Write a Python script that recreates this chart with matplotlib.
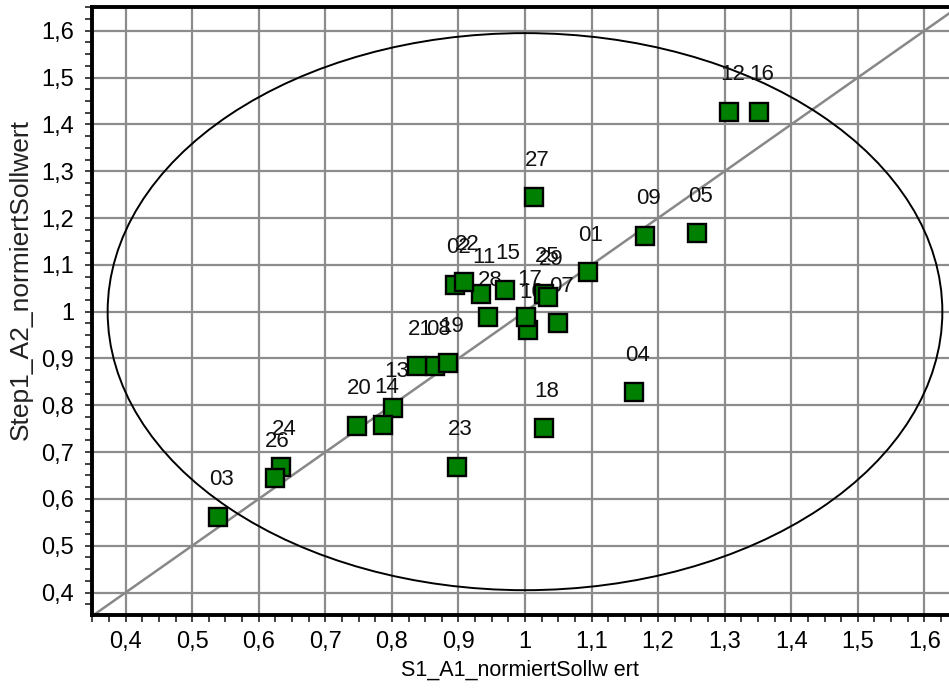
import matplotlib
matplotlib.use("Agg")
import matplotlib.pyplot as plt
from matplotlib.patches import Ellipse
from matplotlib.ticker import MultipleLocator, FuncFormatter

plt.rcParams['font.family'] = ['Liberation Sans', 'DejaVu Sans']

# data
labels = ["01", "02", "03", "04", "05", "07", "08", "09", "10", "11", "12", "13",
          "14", "15", "16", "17", "18", "19", "20", "21", "22", "23", "24", "25",
          "26", "27", "28", "29"]
x_vals = [1.094, 0.895, 0.539, 1.164, 1.259, 1.050, 0.865, 1.181, 1.005, 0.934,
          1.307, 0.802, 0.787, 0.970, 1.351, 1.002, 1.028, 0.885, 0.747, 0.838,
          0.909, 0.898, 0.634, 1.029, 0.624, 1.014, 0.944, 1.035]
y_vals = [1.084, 1.057, 0.562, 0.828, 1.167, 0.975, 0.883, 1.162, 0.961, 1.037,
          1.427, 0.794, 0.758, 1.046, 1.427, 0.989, 0.751, 0.890, 0.756, 0.883,
          1.064, 0.669, 0.669, 1.038, 0.644, 1.244, 0.988, 1.032]
xticks = [0.4, 0.5, 0.6, 0.7, 0.8, 0.9, 1.0, 1.1, 1.2, 1.3, 1.4, 1.5, 1.6]
yticks = [0.4, 0.5, 0.6, 0.7, 0.8, 0.9, 1.0, 1.1, 1.2, 1.3, 1.4, 1.5, 1.6]
ellipse_center = (1.0, 1.0)
ellipse_halfwidth = 0.627
ellipse_halfheight = 0.595
xlabel = "S1_A1_normiertSollw ert"
ylabel = "Step1_A2_normiertSollwert"

fig = plt.figure(figsize=(9.49, 6.91), dpi=100)
ax = fig.add_axes([0.0966, 0.110, 0.9034, 0.880])
ax.set_xlim(0.349, 1.637)
ax.set_ylim(0.352, 1.651)

grid_c = '#8c8c8c'
ax.set_xticks(xticks)
ax.set_yticks(yticks)
ax.xaxis.set_minor_locator(MultipleLocator(0.025))
ax.yaxis.set_minor_locator(MultipleLocator(0.025))
fmt = FuncFormatter(lambda v, p: ('%g' % round(v, 2)).replace('.', ','))
ax.xaxis.set_major_formatter(fmt)
ax.yaxis.set_major_formatter(fmt)
ax.grid(True, which='major', color=grid_c, linewidth=1.6, zorder=0)
ax.set_axisbelow(True)

for s in ['left', 'bottom', 'top']:
    ax.spines[s].set_linewidth(2.8)
    ax.spines[s].set_color('black')
ax.spines['right'].set_visible(False)

ax.tick_params(axis='both', which='both', direction='out', length=5, width=1.3,
               color='#333333', labelsize=17)
ax.tick_params(axis='x', which='major', pad=6.5)
ax.tick_params(axis='y', which='major', pad=7.5)
ax.tick_params(top=False, right=False)

# diagonal
lims = [0.3, 1.7]
ax.plot(lims, lims, color='#888888', linewidth=1.8, zorder=2)

# ellipse
e = Ellipse(ellipse_center, 2 * ellipse_halfwidth, 2 * ellipse_halfheight,
            fill=False, edgecolor='black', linewidth=1.4, zorder=2)
ax.add_patch(e)

for lab, xv, yv in zip(labels, x_vals, y_vals):
    ax.annotate(lab, (xv, yv), xytext=(3, 37), textcoords='offset pixels',
                ha='center', va='center', fontsize=16, color='#111111', zorder=3)

ax.plot(x_vals, y_vals, linestyle='none', marker='s', markersize=13,
        markerfacecolor='#008000', markeredgecolor='black', markeredgewidth=1.7,
        zorder=4)

ax.set_xlabel(xlabel, fontsize=15.5, labelpad=5)
ax.set_ylabel(ylabel, fontsize=19, color='#222222')
ax.yaxis.set_label_coords(-0.0685, 0.551)

fig.savefig("out.png", dpi=100)
